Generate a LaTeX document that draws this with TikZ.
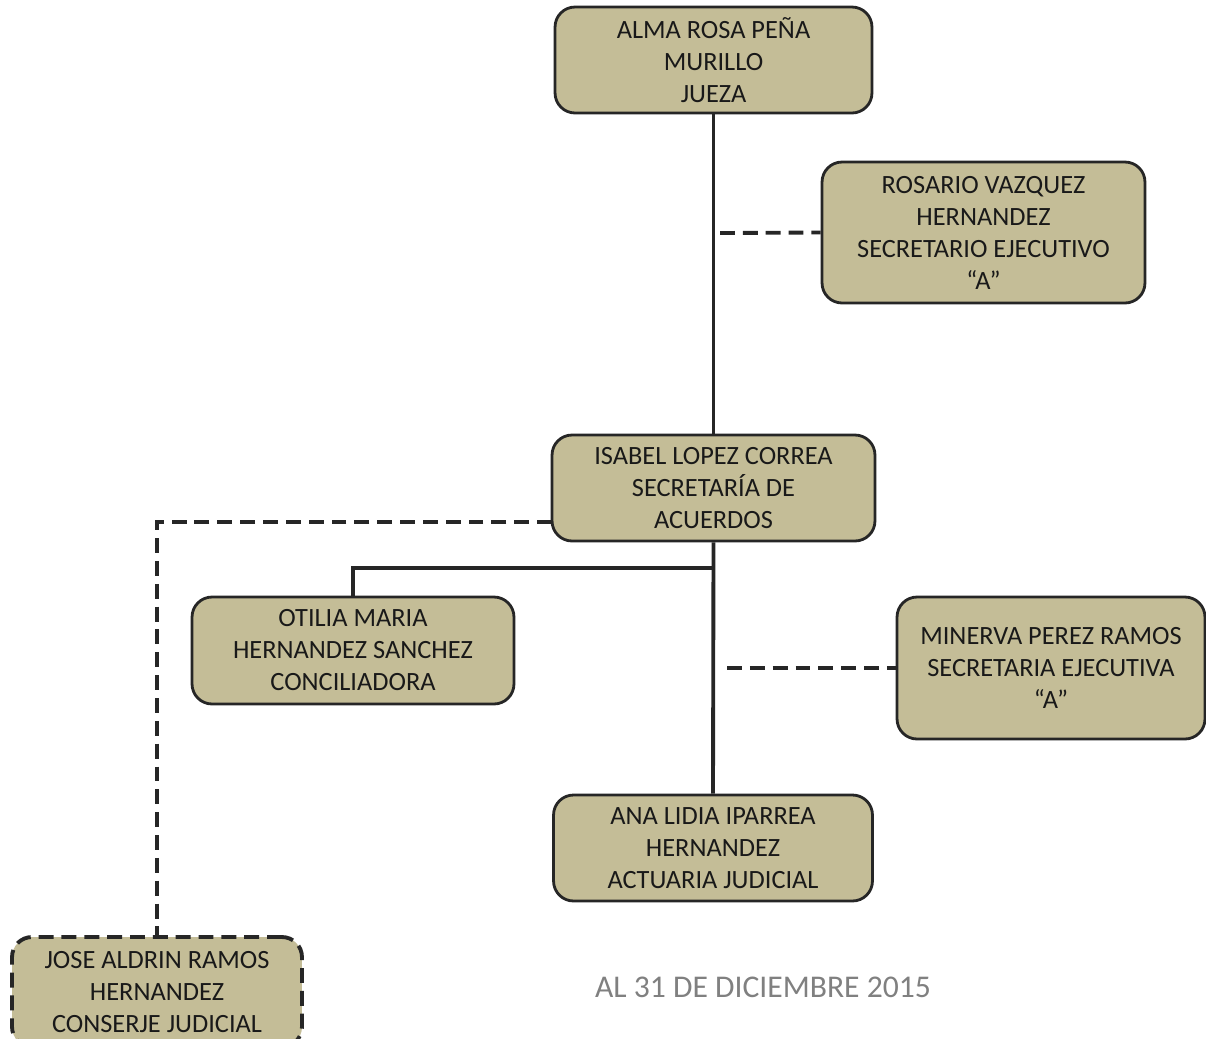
\documentclass[tikz,border=0pt]{standalone}
\usepackage{fontspec}
\setmainfont{Carlito}
\usetikzlibrary{positioning}
\definecolor{cafe}{HTML}{C4BD97}
\definecolor{borde}{HTML}{262626}

\tikzset{
puesto/.style={draw=borde,line width=1.6pt,fill=cafe,rounded corners=0.4cm,align=center,inner sep=0pt,text=black!90,font=\fontsize{15}{18.2}\selectfont},
linea/.style={draw=borde,line width=2.2pt},
guion/.style={draw=borde,line width=2.2pt,dash pattern=on 8.5pt off 4.5pt}
}

\begin{document}
\begin{tikzpicture}[x=0.02cm,y=-0.02cm]
\useasboundingbox (0,0) rectangle (1206,1038);
\clip (0,0) rectangle (1206,1038);
\node[puesto,minimum width=6.34cm,minimum height=2.12cm] (jueza) at (713.5,60) {ALMA ROSA PEÑA\\MURILLO\\JUEZA};
\node[puesto,minimum width=6.46cm,minimum height=2.82cm] (rosario) at (983.5,232.5) {ROSARIO VAZQUEZ\\HERNANDEZ\\SECRETARIO EJECUTIVO\\“A”};
\node[puesto,minimum width=6.46cm,minimum height=2.12cm] (isabel) at (713.5,488) {ISABEL LOPEZ CORREA\\SECRETARÍA DE\\ACUERDOS};
\node[puesto,minimum width=6.44cm,minimum height=2.14cm] (otilia) at (353,650.5) {OTILIA MARIA\\HERNANDEZ SANCHEZ\\CONCILIADORA};
\node[puesto,minimum width=6.16cm,minimum height=2.84cm] (minerva) at (1051,668) {MINERVA PEREZ RAMOS\\SECRETARIA EJECUTIVA\\“A”};
\node[puesto,minimum width=6.38cm,minimum height=2.12cm] (ana) at (713,848) {ANA LIDIA IPARREA\\HERNANDEZ\\ACTUARIA JUDICIAL};
\node[puesto,dash pattern=on 8.5pt off 4.5pt,line width=2.2pt,minimum width=5.8cm,minimum height=2.2cm] (jose) at (157,992) {JOSE ALDRIN RAMOS\\HERNANDEZ\\CONSERJE JUDICIAL};
\node[text=black!50,font=\fontsize{18}{21.8}\selectfont] (fecha) at (763,987) {AL 31 DE DICIEMBRE 2015};

\coordinate (r0) at (720,233);
\coordinate (i0) at (552,522);
\coordinate (b0) at (713,568);
\coordinate (m0) at (727,668);

\draw[linea] (jueza.south) -- (isabel.north);
\draw[guion] (r0) -- (rosario.west);
\draw[guion] (i0) -| (jose.north);
\draw[linea] (isabel.south) -- (ana.north);
\draw[linea] (b0) -| (otilia.north);
\draw[guion] (m0) -- (minerva.west);
\end{tikzpicture}
\end{document}
